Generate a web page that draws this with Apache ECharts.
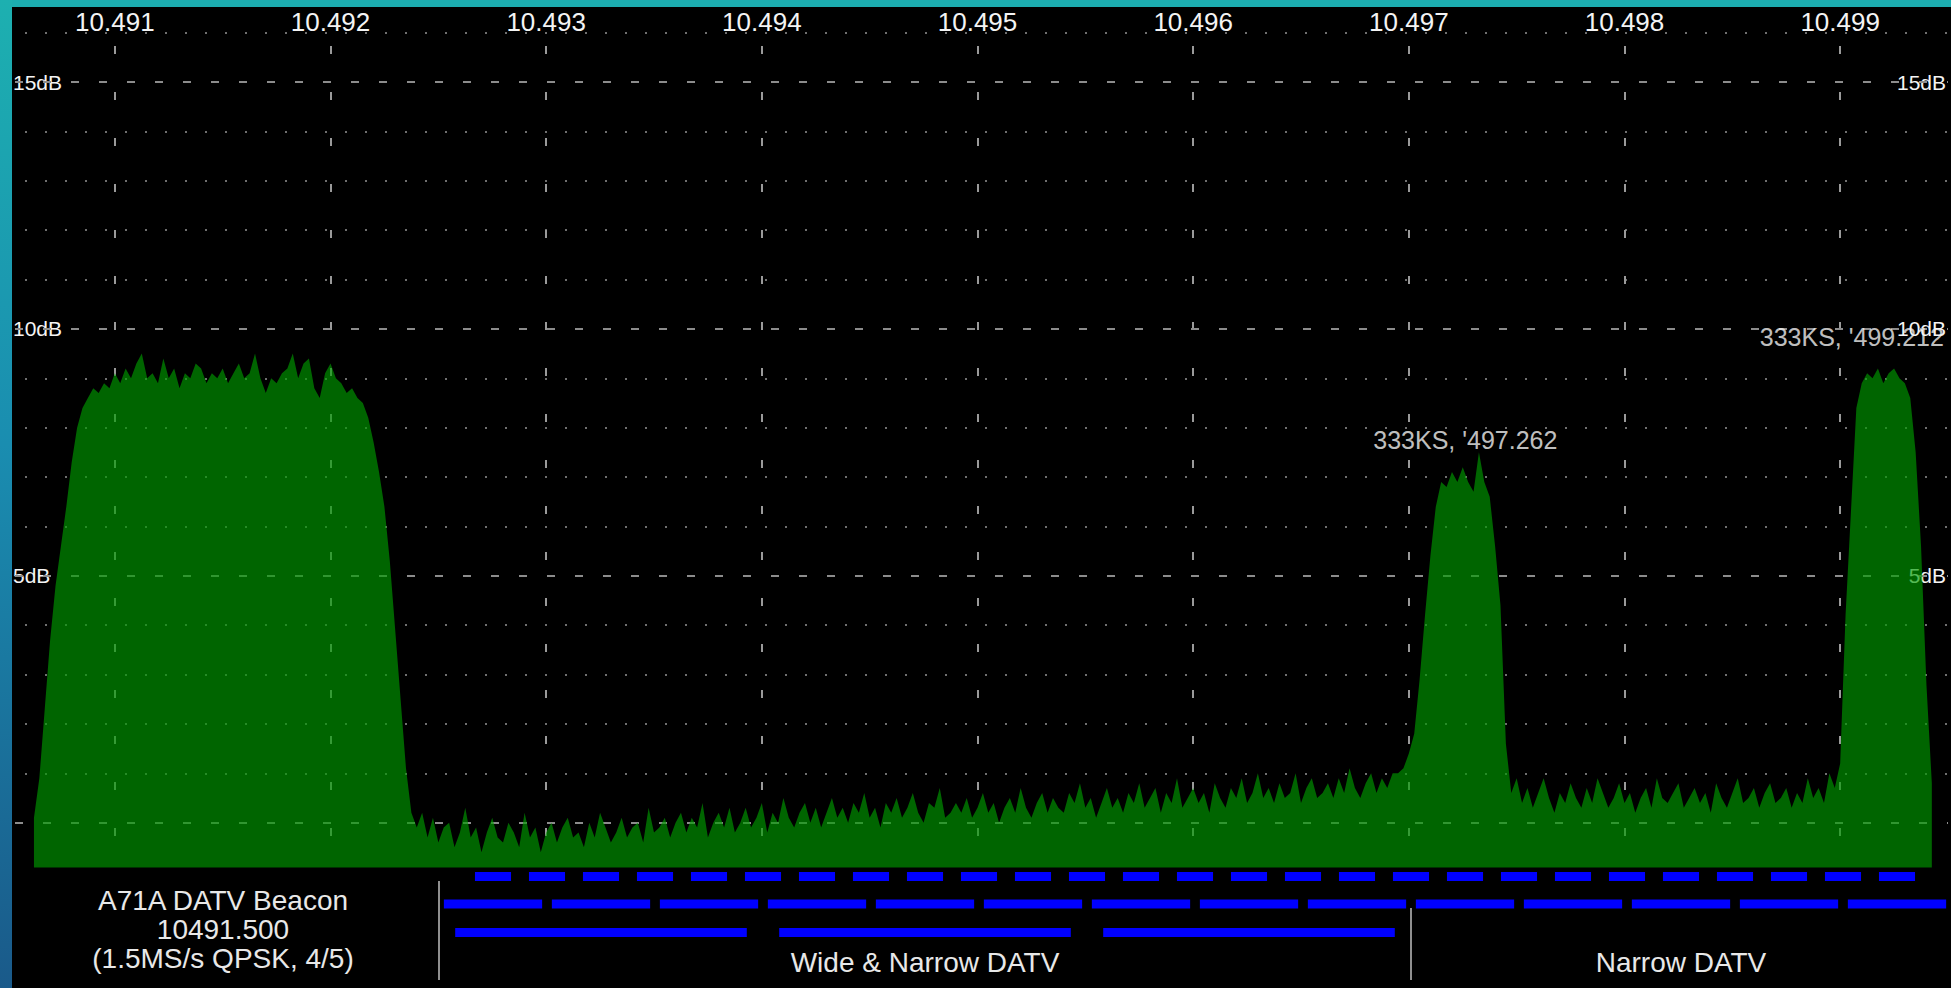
<!DOCTYPE html>
<html>
<head>
<meta charset="utf-8">
<title>QO-100 wideband spectrum</title>
<script src="https://cdn.jsdelivr.net/npm/echarts@6/dist/echarts.min.js"></script>
<style>
  html, body { margin: 0; padding: 0; background: #000; overflow: hidden; }
  #chart { width: 1951px; height: 988px; }
</style>
</head>
<body>
<div id="chart"></div>
<script>
// spectrum readings, one every 25 kHz from 10490.625 MHz, level in dB
const startFreq = 10490.625;
const stepFreq = 0.025;

// A71A beacon, 10490.625 .. 10492.375
const beaconLevels = [
  0.1, 0.9, 2.3, 3.7, 4.8, 5.6, 6.4, 7.3, 8.0, 8.4,
  8.6, 8.8, 8.7, 8.9, 8.8, 9.1, 8.9, 9.2, 9.0, 9.3,
  9.5, 9.0, 9.1, 8.9, 9.4, 9.0, 9.2, 8.8, 9.1, 9.0,
  9.3, 9.2, 8.9, 9.1, 9.0, 9.2, 8.9, 9.1, 9.3, 9.0,
  9.1, 9.5, 9.0, 8.7, 9.0, 8.9, 9.1, 9.2, 9.5, 9.0,
  9.3, 9.4, 8.8, 8.6, 9.1, 9.3, 9.0, 8.9, 8.7, 8.8,
  8.6, 8.5, 8.2, 7.7, 7.1, 6.4, 5.3, 3.9, 2.5, 1.1,
  0.2
];
// noise floor, 10492.400 .. 10496.925
const noiseLowLevels = [
  -0.1, 0.2, -0.3, 0.1, -0.4, -0.1, 0.0, -0.5, -0.2, 0.3,
  -0.3, -0.1, -0.6, -0.2, 0.1, -0.3, -0.4, 0.0, -0.2, -0.5,
  0.2, -0.3, -0.1, -0.6, -0.2, 0.0, -0.4, -0.1, 0.1, -0.3,
  -0.2, -0.5, 0.0, -0.3, 0.2, -0.1, -0.4, -0.2, 0.1, -0.3,
  -0.1, 0.0, -0.4, 0.3, -0.2, -0.1, 0.1, -0.3, 0.0, 0.2,
  -0.2, 0.1, -0.1, 0.4, -0.3, 0.0, 0.2, -0.1, 0.3, -0.2,
  0.0, 0.3, -0.1, 0.1, 0.4, -0.2, 0.2, 0.0, 0.5, 0.1,
  -0.1, 0.2, 0.4, 0.0, 0.3, -0.1, 0.2, 0.5, 0.1, 0.3,
  0.0, 0.4, 0.2, 0.6, 0.1, 0.3, -0.1, 0.4, 0.2, 0.5,
  0.1, 0.3, 0.6, 0.2, 0.0, 0.4, 0.3, 0.7, 0.1, 0.2,
  0.4, 0.2, 0.5, 0.1, 0.3, 0.6, 0.2, 0.4, 0.0, 0.3,
  0.5, 0.2, 0.7, 0.3, 0.1, 0.4, 0.6, 0.2, 0.5, 0.3,
  0.2, 0.6, 0.4, 0.8, 0.3, 0.5, 0.1, 0.4, 0.7, 0.3,
  0.5, 0.2, 0.6, 0.4, 0.8, 0.3, 0.5, 0.7, 0.2, 0.6,
  0.4, 0.9, 0.3, 0.5, 0.7, 0.4, 0.6, 0.2, 0.8, 0.5,
  0.3, 0.7, 0.5, 0.9, 0.4, 0.6, 1.0, 0.5, 0.7, 0.4,
  0.8, 0.5, 0.6, 1.0, 0.4, 0.7, 0.9, 0.5, 0.6, 0.8,
  0.5, 0.9, 0.6, 1.1, 0.7, 0.5, 0.8, 1.0, 0.6, 0.9,
  0.7, 1.0
];
// 333KS carrier, 10496.950 .. 10497.500
const carrier1Levels = [
  1.0, 1.1, 1.4, 1.8, 2.9, 4.2, 5.4, 6.4, 6.9, 6.8,
  7.1, 6.9, 7.2, 6.9, 6.7, 7.5, 6.9, 6.6, 5.6, 4.4,
  1.6, 0.6, 0.9
];
// noise floor, 10497.525 .. 10498.975
const noiseHighLevels = [
  0.4, 0.7, 0.3, 0.6, 0.9, 0.5, 0.2, 0.6, 0.4, 0.8,
  0.5, 0.3, 0.7, 0.4, 0.9, 0.6, 0.3, 0.5, 0.8, 0.4,
  0.6, 0.2, 0.5, 0.7, 0.3, 0.9, 0.5, 0.4, 0.6, 0.8,
  0.3, 0.5, 0.7, 0.4, 0.6, 0.2, 0.8, 0.5, 0.3, 0.6,
  0.9, 0.4, 0.5, 0.7, 0.3, 0.6, 0.8, 0.4, 0.5, 0.7,
  0.3, 0.6, 0.4, 0.9, 0.5, 0.7, 0.4, 1.0, 0.7
];
// 333KS carrier, 10499.000 .. 10499.425
const carrier2Levels = [
  1.2, 4.2, 6.3, 8.4, 8.9, 9.1, 9.0, 9.2, 8.9, 9.1,
  9.2, 9.0, 8.9, 8.6, 7.5, 5.6, 2.8, 0.8
];

const majorLevels = [0, 5, 10, 15];

const peakFreqs = [10497.262, 10499.212];
const peakLevels = [7.75, 9.84];
const peakTexts = ["333KS, '497.262", "333KS, '499.212"];

// channel plan (centre frequencies, MHz)
const narrowChannels = [
  10492.75, 10493.0, 10493.25, 10493.5, 10493.75, 10494.0, 10494.25, 10494.5, 10494.75,
  10495.0, 10495.25, 10495.5, 10495.75, 10496.0, 10496.25, 10496.5, 10496.75, 10497.0,
  10497.25, 10497.5, 10497.75, 10498.0, 10498.25, 10498.5, 10498.75, 10499.0, 10499.25
];
const mediumChannels = [
  10492.75, 10493.25, 10493.75, 10494.25, 10494.75, 10495.25, 10495.75,
  10496.25, 10496.75, 10497.25, 10497.75, 10498.25, 10498.75, 10499.25
];
const wideChannels = [10493.25, 10494.75, 10496.25];

const bandEdges = [10492.5, 10497.0];
const bandCentres = [10491.5, 10494.75, 10498.25];
const bandTexts = [
  'A71A DATV Beacon\n10491.500\n(1.5MS/s QPSK, 4/5)',
  'Wide & Narrow DATV',
  'Narrow DATV'
];

const FONT = "'Liberation Sans', Arial, sans-serif";
const TEXT = '#f4f4f4';

const levels = [].concat(beaconLevels, noiseLowLevels, carrier1Levels, noiseHighLevels, carrier2Levels);
const spectrum = levels.map((v, i) => [+(startFreq + i * stepFreq).toFixed(3), v]);

// bar widths per row (MHz) and their place below the trace (px)
const rowWidth = [0.167, 0.455, 1.35];
const rowTop = [4, 31.5, 60];
const rowHeight = 9;
const channels = []
  .concat(narrowChannels.map(c => [c - rowWidth[0] / 2, c + rowWidth[0] / 2, 0]))
  .concat(mediumChannels.map(c => [c - rowWidth[1] / 2, c + rowWidth[1] / 2, 1]))
  .concat(wideChannels.map(c => [c - rowWidth[2] / 2, c + rowWidth[2] / 2, 2]));

const sepTop = [13, 40];

const chart = echarts.init(document.getElementById('chart'), null, { renderer: 'svg' });

chart.setOption({
  animation: false,
  backgroundColor: '#000',
  grid: [
    { left: 7, top: 8, width: 1944, height: 864 },
    { left: 7, top: 868, width: 1944, height: 120 }
  ],
  xAxis: [
    {
      type: 'value', gridIndex: 0, position: 'top',
      min: 10490.5, max: 10499.5, interval: 0.5,
      axisLine: { show: false }, axisTick: { show: false },
      axisLabel: {
        inside: true, margin: 14, verticalAlign: 'middle',
        color: TEXT, fontSize: 26, fontFamily: FONT,
        formatter: v => Math.abs(v - Math.round(v)) < 1e-6 ? (v / 1000).toFixed(3) : ''
      },
      splitLine: {
        show: true, showMinLine: false, showMaxLine: false,
        lineStyle: { color: ['#9a9a9a', 'rgba(0,0,0,0)'], width: 2, type: [8, 38], dashOffset: 8 }
      }
    },
    { type: 'value', gridIndex: 1, min: 10490.5, max: 10499.5, show: false }
  ],
  yAxis: [
    {
      type: 'value', gridIndex: 0, position: 'left',
      min: -1, max: 16.5, interval: 1,
      axisLine: { show: false }, axisTick: { show: false },
      axisLabel: {
        inside: true, margin: 6, color: TEXT, fontSize: 21, fontFamily: FONT,
        backgroundColor: '#000',
        formatter: v => (v > 0 && v % 5 === 0) ? v + 'dB' : ''
      },
      splitLine: {
        show: true, showMinLine: false, showMaxLine: false,
        lineStyle: {
          color: ['rgba(0,0,0,0)', '#707070', '#707070', '#707070', '#707070'],
          width: 2, type: [2, 18], dashOffset: 2
        }
      }
    },
    {
      type: 'value', gridIndex: 0, position: 'right',
      min: -1, max: 16.5, interval: 1,
      axisLine: { show: false }, axisTick: { show: false }, splitLine: { show: false },
      axisLabel: {
        inside: true, margin: 2, color: TEXT, fontSize: 21, fontFamily: FONT,
        formatter: v => (v > 0 && v % 5 === 0) ? v + 'dB' : ''
      }
    },
    { type: 'value', gridIndex: 1, min: 0, max: 120, inverse: true, show: false }
  ],
  series: [
    {
      name: 'spectrum',
      type: 'line',
      xAxisIndex: 0, yAxisIndex: 0,
      data: spectrum,
      showSymbol: false,
      sampling: null,
      z: 2,
      lineStyle: { width: 0, opacity: 0 },
      areaStyle: { color: 'rgba(0,155,0,0.65)', origin: -0.91, opacity: 1 },
      emphasis: { disabled: true },
      markLine: {
        z: 1, silent: true, symbol: 'none', label: { show: false },
        lineStyle: { color: '#8c8c8c', width: 2, type: [8, 20], dashOffset: 20 },
        data: majorLevels.map(v => ({ yAxis: v }))
      }
    },
    {
      name: 'peaks',
      type: 'scatter',
      xAxisIndex: 0, yAxisIndex: 0,
      symbolSize: 1,
      itemStyle: { color: 'rgba(0,0,0,0)' },
      silent: true, z: 4,
      data: peakFreqs.map((f, i) => i === 1
        ? { value: [f, peakLevels[i]], label: { align: 'right', offset: [58, 0] } }
        : { value: [f, peakLevels[i]] }),
      label: {
        show: true, position: 'inside', color: TEXT, fontSize: 25, fontFamily: FONT,
        formatter: p => peakTexts[p.dataIndex]
      }
    },
    {
      name: 'channels',
      type: 'custom',
      xAxisIndex: 1, yAxisIndex: 2,
      silent: true,
      encode: { x: [0, 1], y: 2 },
      data: channels,
      renderItem: function (params, api) {
        const row = api.value(2);
        const a = api.coord([api.value(0), rowTop[row]]);
        const b = api.coord([api.value(1), rowTop[row] + rowHeight]);
        return {
          type: 'rect',
          shape: { x: a[0], y: a[1], width: b[0] - a[0], height: b[1] - a[1] },
          style: { fill: '#0000ff' }
        };
      }
    },
    {
      name: 'band edges',
      type: 'custom',
      xAxisIndex: 1, yAxisIndex: 2,
      silent: true,
      data: bandEdges.map((f, i) => [f, i]),
      renderItem: function (params, api) {
        const a = api.coord([api.value(0), sepTop[api.value(1)]]);
        const b = api.coord([api.value(0), 112]);
        return {
          type: 'line',
          shape: { x1: a[0], y1: a[1], x2: b[0], y2: b[1] },
          style: { stroke: '#8f8f8f', lineWidth: 2 }
        };
      }
    },
    {
      name: 'band names',
      type: 'custom',
      xAxisIndex: 1, yAxisIndex: 2,
      silent: true,
      data: bandCentres.map((f, i) => [f, i]),
      renderItem: function (params, api) {
        const i = api.value(1);
        const p = api.coord([api.value(0), i === 0 ? 61 : 94]);
        return {
          type: 'text',
          x: p[0], y: p[1],
          style: {
            text: bandTexts[i], fill: '#e8e8e8', fontSize: 28, fontFamily: FONT,
            align: 'center', verticalAlign: 'middle', lineHeight: 29
          }
        };
      }
    }
  ],
  graphic: [
    { type: 'rect', z: 100, shape: { x: 0, y: 0, width: 1951, height: 7 }, style: { fill: '#1cadb0' } },
    {
      type: 'rect', z: 100, shape: { x: 0, y: 0, width: 12, height: 988 },
      style: {
        fill: new echarts.graphic.LinearGradient(0, 0, 0, 1, [
          { offset: 0, color: '#1db0b0' },
          { offset: 0.45, color: '#1a8db0' },
          { offset: 1, color: '#1a5a8a' }
        ])
      }
    }
  ]
});
</script>
</body>
</html>
